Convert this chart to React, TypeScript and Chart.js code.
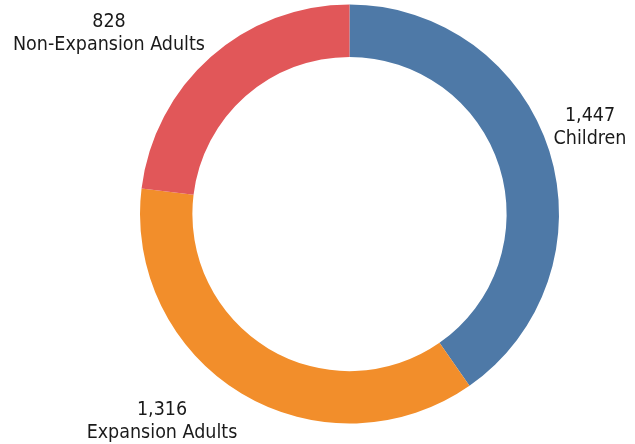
import React, { useEffect, useRef } from "react";
import { Chart, registerables } from "chart.js";

Chart.register(...registerables);

const categories = ["Children", "Expansion Adults", "Non-Expansion Adults"];
const values = [1447, 1316, 828];
const valueLabels = ["1,447", "1,316", "828"];
const colors = ["#4e79a7", "#f28e2b", "#e15759"];
// label anchor offsets from the doughnut centre (first-line baseline)
const labelOffsets = [
  [240.5, -93],
  [-187.5, 201],
  [-240.5, -187],
];

const FONT = '19.5px "DejaVu Sans Condensed", "DejaVu Sans", sans-serif';

const labelPlugin = {
  id: "outerLabels",
  afterDraw(chart: any) {
    const meta = chart.getDatasetMeta(0);
    const ctx = chart.ctx;
    ctx.save();
    ctx.font = FONT;
    ctx.fillStyle = "#1a1a1a";
    ctx.textAlign = "center";
    ctx.textBaseline = "alphabetic";
    meta.data.forEach((arc: any, i: number) => {
      const cx = arc.x + labelOffsets[i][0];
      const cy = arc.y + labelOffsets[i][1];
      ctx.fillText(valueLabels[i], cx, cy);
      ctx.fillText(categories[i], cx, cy + 23);
    });
    ctx.restore();
  },
};

export default function App() {
  const ref = useRef<HTMLCanvasElement | null>(null);
  useEffect(() => {
    if (!ref.current) return;
    const chart = new Chart(ref.current, {
      type: "doughnut",
      data: {
        labels: categories,
        datasets: [
          {
            data: values,
            backgroundColor: colors,
            borderWidth: 0,
          },
        ],
      },
      options: {
        responsive: false,
        animation: false,
        cutout: "75%",
        layout: { padding: { top: 4, bottom: 20, left: 140, right: 76 } },
        plugins: {
          legend: { display: false },
          tooltip: { enabled: false },
        },
      },
      plugins: [labelPlugin],
    });
    return () => chart.destroy();
  }, []);
  return (
    <div style={{ position: "fixed", left: 0, top: 0, width: 635, height: 444, background: "#fff" }}>
      <canvas ref={ref} width={635} height={444} />
    </div>
  );
}
